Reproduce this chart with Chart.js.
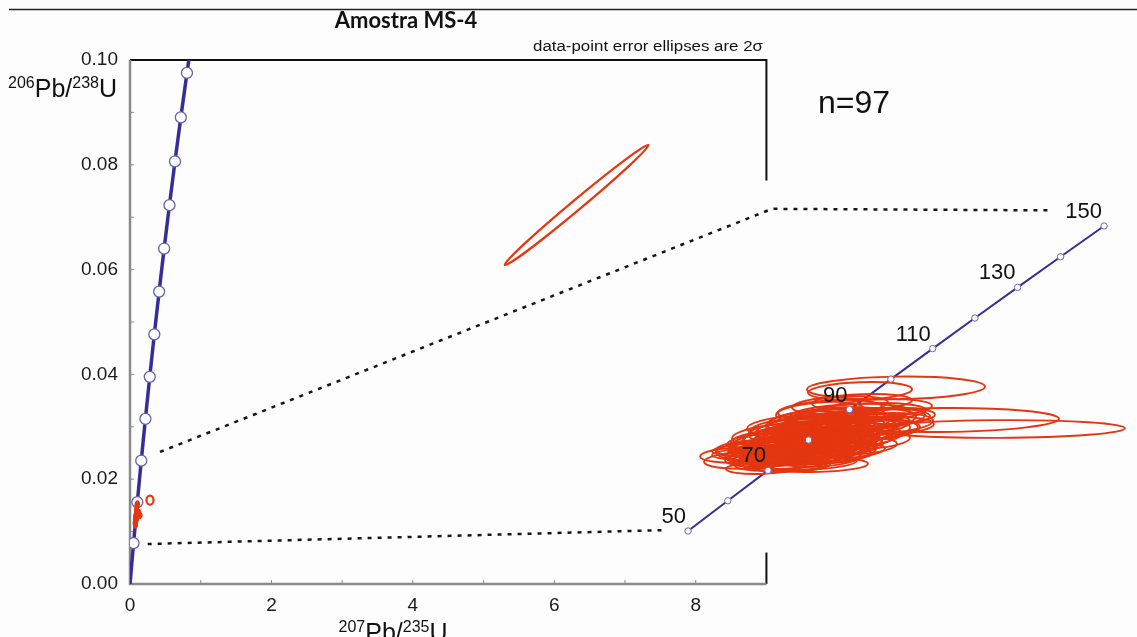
<!DOCTYPE html>
<html>
<head>
<meta charset="utf-8">
<title>Amostra MS-4</title>
<script src="https://cdn.jsdelivr.net/npm/chart.js@4.4.1/dist/chart.umd.min.js"></script>
<style>
  html, body { margin: 0; padding: 0; background: #fdfdfd; }
  #wrap { width: 1137px; height: 637px; }
</style>
</head>
<body>
<div id="wrap"><canvas id="concordia" width="1137" height="637"></canvas></div>
<script>
// Wetherill concordia, ages in Ma
const concordiaAgesMa = [0, 50, 100, 150, 200, 250, 300, 350, 400, 450, 500, 550, 600, 650];
const concordiaPb207U235 = [0, 0.0505, 0.1035, 0.1592, 0.2177, 0.2792, 0.3438, 0.4116, 0.4828, 0.5576, 0.6362, 0.7189, 0.8056, 0.8968];
const concordiaPb206U238 = [0, 0.00779, 0.01563, 0.02354, 0.03151, 0.03954, 0.04764, 0.05580, 0.06402, 0.07230, 0.08065, 0.08906, 0.09754, 0.10609];

// enlarged part of the curve, 50-150 Ma
const insetAgesMa = [50, 60, 70, 80, 90, 100, 110, 120, 130, 140, 150];
const insetPb207U235 = [0.05048, 0.06087, 0.07137, 0.08198, 0.09268, 0.10350, 0.11442, 0.12545, 0.13659, 0.14783, 0.15919];
const insetPb206U238 = [0.007786, 0.009351, 0.010918, 0.012487, 0.014059, 0.015633, 0.017210, 0.018789, 0.020371, 0.021955, 0.023542];

// zircon spots (n=97): ratios, 2-sigma errors and error correlation
const spotPb207U235 = [
  0.08105, 0.07713, 0.08497, 0.07321, 0.08889, 0.08235, 0.07922, 0.08706, 0.07582, 0.09150,
  0.08366, 0.07190, 0.07974, 0.09019, 0.08627, 0.07843, 0.08288, 0.09333, 0.07451, 0.08444,
  0.07060, 0.09542, 0.07765, 0.08889, 0.08183, 0.07269, 0.09228, 0.07634, 0.08549, 0.08052,
  0.09751, 0.06929, 0.08758, 0.08288, 0.09019, 0.07399, 0.09411, 0.07843, 0.08444, 0.09855,
  0.06667, 0.07974, 0.08889, 0.07530, 0.09228, 0.08653, 0.07138, 0.08288, 0.07843, 0.09490,
  0.06459, 0.10064, 0.08105, 0.07713, 0.08497, 0.07242, 0.06929, 0.07582, 0.07321, 0.07504,
  0.07922, 0.08235, 0.08758, 0.09281, 0.09751, 0.10064, 0.09019, 0.09542, 0.10456, 0.08497,
  0.09594, 0.10483, 0.09542, 0.11658, 0.13200, 0.09934, 0.09411, 0.10273, 0.09150, 0.07060,
  0.06720, 0.07713, 0.08183, 0.08653, 0.08967, 0.08366, 0.07974, 0.08810, 0.09202, 0.07608,
  0.08549, 0.08131, 0.09803, 0.07399, 0.09019, 6.315, 0.283
];
const spotPb206U238 = [
  0.012487, 0.012126, 0.012746, 0.011867, 0.013004, 0.012229, 0.012591, 0.012384, 0.011713, 0.013107,
  0.012901, 0.011558, 0.011971, 0.012642, 0.013211, 0.012333, 0.011867, 0.012901, 0.012178, 0.012487,
  0.011713, 0.013262, 0.012901, 0.012126, 0.013107, 0.012487, 0.012487, 0.011454, 0.013521, 0.011661,
  0.013521, 0.011971, 0.011867, 0.012642, 0.013417, 0.012746, 0.012178, 0.013262, 0.011558, 0.013004,
  0.011454, 0.012746, 0.013624, 0.012384, 0.013314, 0.012178, 0.012074, 0.013262, 0.011867, 0.012694,
  0.011713, 0.013624, 0.011351, 0.011196, 0.011196, 0.011299, 0.011041, 0.011196, 0.011764, 0.011971,
  0.011558, 0.011713, 0.014037, 0.013831, 0.013934, 0.014141, 0.014296, 0.013624, 0.013727, 0.013934,
  0.014451, 0.015174, 0.015019, 0.013521, 0.013056, 0.013314, 0.013004, 0.013211, 0.011971, 0.012384,
  0.012074, 0.013107, 0.013521, 0.013004, 0.012384, 0.012074, 0.012281, 0.012694, 0.012797, 0.012591,
  0.011971, 0.012901, 0.012487, 0.011558, 0.013211, 0.07233, 0.0160
];
const spotErr207 = [
  0.01437, 0.01307, 0.01516, 0.01254, 0.01568, 0.01359, 0.01176, 0.01307, 0.01437, 0.01437,
  0.01254, 0.01176, 0.01568, 0.01359, 0.01307, 0.01097, 0.01307, 0.01516, 0.01202, 0.01620,
  0.01045, 0.01307, 0.01150, 0.01254, 0.01359, 0.01097, 0.01176, 0.01307, 0.01437, 0.01150,
  0.01254, 0.01150, 0.01202, 0.01045, 0.01359, 0.01202, 0.01097, 0.01254, 0.01097, 0.01202,
  0.01202, 0.01463, 0.01307, 0.01359, 0.01254, 0.01463, 0.01045, 0.01202, 0.01307, 0.01150,
  0.01097, 0.01176, 0.01359, 0.01045, 0.01254, 0.00993, 0.00888, 0.01097, 0.01646, 0.01829,
  0.01672, 0.01620, 0.01359, 0.01568, 0.01516, 0.01359, 0.01254, 0.01829, 0.01045, 0.01150,
  0.01307, 0.02326, 0.01359, 0.03083, 0.03266, 0.01516, 0.01698, 0.01202, 0.01045, 0.00993,
  0.00941, 0.01045, 0.00993, 0.01150, 0.01045, 0.01202, 0.00941, 0.00993, 0.01202, 0.01150,
  0.01045, 0.01097, 0.01045, 0.01150, 0.01150, 1.017, 0.05
];
const spotErr206 = [
  0.00062, 0.00057, 0.00062, 0.00052, 0.00067, 0.00057, 0.00052, 0.00062, 0.00052, 0.00062,
  0.00057, 0.00046, 0.00062, 0.00057, 0.00052, 0.00052, 0.00057, 0.00062, 0.00052, 0.00067,
  0.00046, 0.00057, 0.00052, 0.00052, 0.00062, 0.00052, 0.00052, 0.00046, 0.00062, 0.00046,
  0.00057, 0.00052, 0.00052, 0.00046, 0.00057, 0.00057, 0.00046, 0.00052, 0.00046, 0.00052,
  0.00046, 0.00067, 0.00057, 0.00062, 0.00057, 0.00062, 0.00046, 0.00052, 0.00052, 0.00052,
  0.00041, 0.00052, 0.00041, 0.00036, 0.00036, 0.00041, 0.00031, 0.00031, 0.00036, 0.00041,
  0.00036, 0.00041, 0.00052, 0.00052, 0.00046, 0.00046, 0.00046, 0.00052, 0.00041, 0.00052,
  0.00041, 0.00059, 0.00046, 0.00062, 0.00046, 0.00057, 0.00062, 0.00046, 0.00041, 0.00046,
  0.00041, 0.00052, 0.00046, 0.00057, 0.00052, 0.00052, 0.00046, 0.00052, 0.00057, 0.00057,
  0.00046, 0.00052, 0.00046, 0.00041, 0.00052, 0.01147, 0.00086
];
const spotRho = [
  0.35, 0.30, 0.40, 0.25, 0.38, 0.32, 0.28, 0.42, 0.22, 0.36,
  0.30, 0.25, 0.34, 0.40, 0.28, 0.31, 0.27, 0.38, 0.26, 0.41,
  0.24, 0.33, 0.29, 0.35, 0.37, 0.27, 0.30, 0.21, 0.39, 0.23,
  0.32, 0.26, 0.30, 0.28, 0.36, 0.31, 0.25, 0.34, 0.22, 0.30,
  0.20, 0.42, 0.35, 0.33, 0.37, 0.39, 0.26, 0.31, 0.28, 0.27,
  0.18, 0.29, 0.20, 0.15, 0.18, 0.20, 0.15, 0.12, 0.14, 0.16,
  0.15, 0.18, 0.30, 0.26, 0.22, 0.24, 0.28, 0.20, 0.18, 0.30,
  0.22, 0.12, 0.20, 0.10, 0.08, 0.30, 0.25, 0.22, 0.20, 0.28,
  0.25, 0.33, 0.30, 0.36, 0.29, 0.31, 0.27, 0.34, 0.32, 0.35,
  0.24, 0.33, 0.26, 0.21, 0.30, 0.994, 0.0
];

// dotted guides from the enlarged window to the inset
const guideUpperX = [0.424, 9.08, 13.01];
const guideUpperY = [0.0252, 0.0716, 0.0713];
const guideLowerX = [0.25, 7.59];
const guideLowerY = [0.00763, 0.0103];

const FONT = "'Liberation Sans', Arial, Helvetica, sans-serif";
const RED = 'rgb(228, 54, 16)';
const VIOLET = 'rgb(56, 45, 152)';

function toPoints(xs, ys) {
  return xs.map((x, i) => ({ x: x, y: ys[i] }));
}

const spots = spotPb207U235.map((x, i) => ({
  x: x, y: spotPb206U238[i], ex: spotErr207[i], ey: spotErr206[i], rho: spotRho[i]
}));

// axis frame with the small inward ticks
const frameAndTicks = {
  id: 'frameAndTicks',
  beforeDraw(chart) {
    const ctx = chart.ctx;
    ctx.save();
    ctx.fillStyle = '#fdfdfd';
    ctx.fillRect(0, 0, chart.width, chart.height);
    ctx.restore();
  },
  beforeDatasetsDraw(chart) {
    const ctx = chart.ctx;
    const xs = chart.scales.x, ys = chart.scales.y;
    const x0 = xs.getPixelForValue(0), x9 = xs.getPixelForValue(9);
    const y0 = ys.getPixelForValue(0), yTop = ys.getPixelForValue(0.1);
    ctx.save();
    ctx.strokeStyle = '#111';
    ctx.lineWidth = 2;
    ctx.beginPath();
    ctx.moveTo(x0, yTop); ctx.lineTo(x9, yTop);
    ctx.moveTo(x9, yTop - 1); ctx.lineTo(x9, ys.getPixelForValue(0.077));
    ctx.moveTo(x9, ys.getPixelForValue(0.006)); ctx.lineTo(x9, y0);
    ctx.stroke();

    ctx.strokeStyle = '#8a8a8a';
    ctx.lineWidth = 2.5;
    ctx.beginPath();
    ctx.moveTo(x0, yTop); ctx.lineTo(x0, y0); ctx.lineTo(x9, y0);
    ctx.stroke();

    ctx.lineWidth = 1;
    ctx.beginPath();
    ys.ticks.forEach(t => {
      if (t.value > 0.001 && t.value < 0.099) {
        const p = ys.getPixelForValue(t.value);
        ctx.moveTo(x0, p); ctx.lineTo(x0 + 4, p);
      }
    });
    xs.ticks.forEach(t => {
      if (t.value > 0 && t.value < 9) {
        const p = xs.getPixelForValue(t.value);
        ctx.moveTo(p, y0); ctx.lineTo(p, y0 - 4);
      }
    });
    ctx.stroke();
    ctx.restore();
  }
};

// 2-sigma error ellipses, drawn right after their carrier dataset
const errorEllipses = {
  id: 'errorEllipses',
  afterDatasetDraw(chart, args) {
    const ds = chart.data.datasets[args.index];
    if (!ds.ellipses) return;
    const xs = chart.scales[args.meta.xAxisID];
    const ys = chart.scales[args.meta.yAxisID];
    const kx = Math.abs(xs.getPixelForValue(xs.max) - xs.getPixelForValue(xs.min)) / (xs.max - xs.min);
    const ky = Math.abs(ys.getPixelForValue(ys.max) - ys.getPixelForValue(ys.min)) / (ys.max - ys.min);
    const ctx = chart.ctx;
    ctx.save();
    ctx.strokeStyle = RED;
    ctx.lineWidth = ds.ellipseWidth;
    ds.data.forEach(p => {
      const a = p.ex * kx, b = p.ey * ky;
      const c = -p.rho * a * b; // pixel y runs downwards
      const mid = (a * a + b * b) / 2;
      const d = Math.sqrt(Math.pow((a * a - b * b) / 2, 2) + c * c);
      const r1 = Math.sqrt(mid + d);
      const r2 = Math.sqrt(Math.max(mid - d, 0.25));
      const theta = 0.5 * Math.atan2(2 * c, a * a - b * b);
      ctx.beginPath();
      ctx.ellipse(xs.getPixelForValue(p.x), ys.getPixelForValue(p.y), r1, r2, theta, 0, Math.PI * 2);
      ctx.stroke();
    });
    ctx.restore();
  }
};

function drawRatio(ctx, x, baseline, align, top, bottom) {
  const big = '25px ' + FONT, small = '16px ' + FONT;
  const parts = [[top, small, -9], ['Pb/', big, 0], [bottom, small, -9], ['U', big, 0]];
  let total = 0;
  parts.forEach(p => { ctx.font = p[1]; p.push(ctx.measureText(p[0]).width); total += p[3]; });
  let cx = align === 'right' ? x - total : align === 'center' ? x - total / 2 : x;
  ctx.textAlign = 'left';
  ctx.textBaseline = 'alphabetic';
  parts.forEach(p => {
    ctx.font = p[1];
    ctx.fillText(p[0], cx, baseline + p[2]);
    cx += p[3];
  });
}

const annotations = {
  id: 'annotations',
  afterDraw(chart) {
    const ctx = chart.ctx;
    ctx.save();
    ctx.fillStyle = '#111';

    ctx.strokeStyle = '#222';
    ctx.lineWidth = 1.5;
    ctx.beginPath();
    ctx.moveTo(9, 9.5); ctx.lineTo(chart.width, 9.5);
    ctx.stroke();

    ctx.font = "bold 22px Lato, 'Open Sans', sans-serif";
    ctx.textAlign = 'center';
    ctx.textBaseline = 'alphabetic';
    ctx.fillText('Amostra MS-4', 406, 28);

    // condensed note above the frame
    ctx.font = '14px ' + FONT;
    const note = 'data-point error ellipses are 2\u03c3';
    const w = ctx.measureText(note).width;
    ctx.save();
    ctx.translate(763, 51);
    ctx.scale(230 / w, 1);
    ctx.textAlign = 'right';
    ctx.fillText(note, 0, 0);
    ctx.restore();

    ctx.font = '32px ' + FONT;
    ctx.textAlign = 'left';
    ctx.fillText('n=97', 818, 113);

    drawRatio(ctx, 117, 97, 'right', '206', '238');
    drawRatio(ctx, 393, 641, 'center', '207', '235');

    // age labels along the enlarged concordia
    const idx = chart.data.datasets.findIndex(d => d.ageLabels);
    const meta = chart.getDatasetMeta(idx);
    const ages = chart.data.datasets[idx].ageLabels;
    ctx.font = '22px ' + FONT;
    ctx.textAlign = 'right';
    ctx.textBaseline = 'middle';
    meta.data.forEach((el, i) => {
      if (ages[i] % 20 === 10) ctx.fillText(String(ages[i]), el.x - 2, el.y - 14);
    });
    ctx.restore();
  }
};

Chart.defaults.font.family = FONT;

new Chart(document.getElementById('concordia'), {
  type: 'scatter',
  data: {
    datasets: [
      {
        data: toPoints(guideUpperX, guideUpperY),
        showLine: true, borderColor: '#151515', borderWidth: 2.5, borderDash: [4, 6],
        pointRadius: 0, clip: false, order: 6
      },
      {
        data: toPoints(guideLowerX, guideLowerY),
        showLine: true, borderColor: '#151515', borderWidth: 2.5, borderDash: [4, 6],
        pointRadius: 0, clip: false, order: 6
      },
      {
        data: toPoints(concordiaPb207U235, concordiaPb206U238),
        showLine: true, borderColor: VIOLET, borderWidth: 3.5,
        pointRadius: ctx => (concordiaAgesMa[ctx.dataIndex] === 0 || concordiaAgesMa[ctx.dataIndex] > 600) ? 0 : 5.5,
        pointBackgroundColor: '#ffffff', pointBorderColor: '#6262a8', pointBorderWidth: 1.3,
        order: 5
      },
      {
        data: spots, ellipses: true, ellipseWidth: 2.2,
        pointRadius: 0, order: 4
      },
      {
        data: toPoints(insetPb207U235, insetPb206U238), xAxisID: 'x2', yAxisID: 'y2',
        showLine: true, borderColor: VIOLET, borderWidth: 2, pointRadius: 0,
        clip: false, order: 3
      },
      {
        data: spots, xAxisID: 'x2', yAxisID: 'y2', ellipses: true, ellipseWidth: 1.9,
        pointRadius: 0, clip: false, order: 2
      },
      {
        data: toPoints(insetPb207U235, insetPb206U238), xAxisID: 'x2', yAxisID: 'y2',
        ageLabels: insetAgesMa, showLine: false,
        pointRadius: 3.2, pointBackgroundColor: '#ffffff', pointBorderColor: '#6a6aa8', pointBorderWidth: 1,
        clip: false, order: 1
      }
    ]
  },
  options: {
    responsive: false,
    animation: false,
    events: [],
    layout: { padding: { top: 60, right: 17, bottom: 0, left: 0 } },
    plugins: {
      legend: { display: false },
      tooltip: { enabled: false },
      title: { display: false }
    },
    scales: {
      x: {
        type: 'linear', position: 'bottom', min: 0, max: 14,
        grid: { display: false, drawTicks: false },
        border: { display: false },
        ticks: {
          stepSize: 1, autoSkip: false, maxRotation: 0, padding: 10,
          color: '#1a1a1a', font: { size: 19 },
          callback: v => (v <= 8 && v % 2 === 0) ? String(v) : ''
        },
        afterFit: s => { s.height = 53; }
      },
      y: {
        type: 'linear', position: 'left', min: 0, max: 0.1,
        grid: { display: false, drawTicks: false },
        border: { display: false },
        ticks: {
          stepSize: 0.01, autoSkip: false, padding: 12,
          color: '#1a1a1a', font: { size: 19 },
          callback: v => Math.round(v * 100) % 2 === 0 ? v.toFixed(2) : ''
        },
        afterFit: s => { s.width = 130; }
      },
      x2: { type: 'linear', position: 'bottom', display: false, min: -0.095331, max: 0.163357 },
      y2: { type: 'linear', position: 'left', display: false, min: 0.0050485, max: 0.0321174 }
    }
  },
  plugins: [frameAndTicks, errorEllipses, annotations]
});
</script>
</body>
</html>
